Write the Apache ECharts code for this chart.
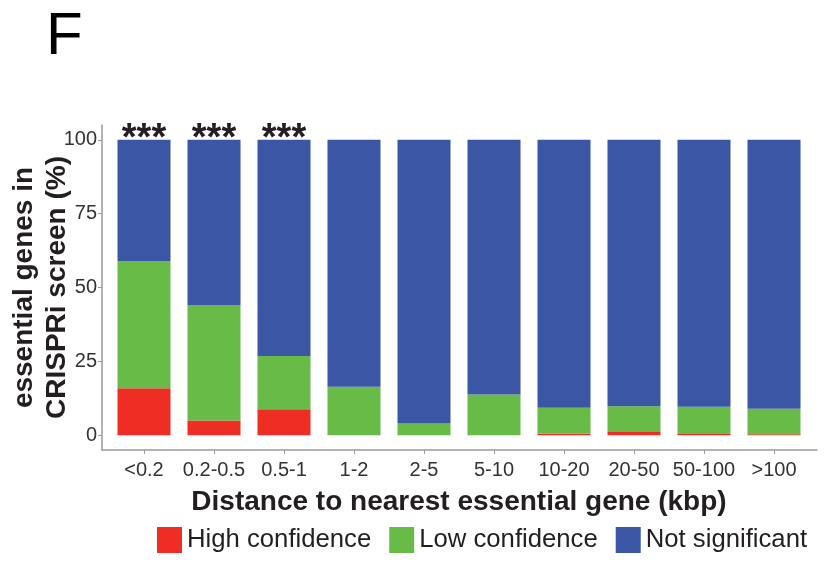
<!DOCTYPE html>
<html>
<head>
<meta charset="utf-8">
<script src="https://cdn.jsdelivr.net/npm/echarts@6/dist/echarts.min.js"></script>
<style>html,body{margin:0;padding:0;background:#fff}#c{width:827px;height:563px}</style>
</head>
<body>
<div id="c"></div>
<script>
const categories = ['<0.2','0.2-0.5','0.5-1','1-2','2-5','5-10','10-20','20-50','50-100','>100'];
const highConf = [15.9, 5.0, 8.8, 0, 0, 0, 0.5, 1.1, 0.4, 0.3];
const lowConf  = [43.1, 39.1, 18.0, 16.4, 4.0, 13.8, 8.8, 8.7, 9.2, 8.7];
const notSig   = [41.0, 55.9, 73.2, 83.6, 96.0, 86.2, 90.7, 90.2, 90.4, 91.0];
const significance = ['***','***','***','','','','','','',''];
const yTicks = [0, 25, 50, 75, 100];

const font = '"Liberation Sans", Arial, sans-serif';
const chart = echarts.init(document.getElementById('c'), null, {renderer: 'canvas'});
chart.setOption({
  backgroundColor: '#ffffff',
  animation: false,
  textStyle: {fontFamily: font},
  title: {
    text: 'F', left: 46, top: 7, padding: 0,
    textStyle: {fontFamily: font, fontSize: 60, fontWeight: 'normal', color: '#000'}
  },
  legend: {
    left: 157, top: 527, padding: 0,
    itemWidth: 25, itemHeight: 26, itemGap: 18,
    icon: 'rect',
    textStyle: {fontFamily: font, fontSize: 25.7, color: '#231f20'},
    data: ['High confidence', 'Low confidence', 'Not significant']
  },
  grid: [
    {left: 109, right: 18, top: 125, bottom: 113, outerBoundsMode: 'none', containLabel: false},
    {left: 102, right: 10, top: 125, bottom: 113, outerBoundsMode: 'none', containLabel: false}
  ],
  xAxis: [
    {
      type: 'category', gridIndex: 0, data: categories,
      axisLine: {show: false, onZero: false},
      axisTick: {show: true, alignWithLabel: true, length: 4, lineStyle: {color: '#9a9a9a', width: 1}},
      axisLabel: {fontFamily: font, fontSize: 20, color: '#333', margin: 10, interval: 0},
      name: 'Distance to nearest essential gene (kbp)',
      nameLocation: 'middle', nameGap: 38, nameMoveOverlap: false,
      nameTextStyle: {fontFamily: font, fontSize: 28, fontWeight: 'bold', color: '#231f20'}
    },
    {
      type: 'value', gridIndex: 1, min: 0, max: 1,
      axisLine: {show: true, onZero: false, lineStyle: {color: '#9a9a9a', width: 1.5}},
      axisTick: {show: false}, axisLabel: {show: false}, splitLine: {show: false}
    }
  ],
  yAxis: [
    {type: 'value', gridIndex: 0, min: -5, max: 105, show: false},
    {
      type: 'value', gridIndex: 1, min: -5, max: 105,
      axisLine: {show: true, onZero: false, lineStyle: {color: '#9a9a9a', width: 1.5}},
      axisTick: {show: true, customValues: yTicks, length: 4, lineStyle: {color: '#9a9a9a', width: 1}},
      axisLabel: {customValues: yTicks, fontFamily: font, fontSize: 20, color: '#333', margin: 5},
      splitLine: {show: false},
      name: 'essential genes in\nCRISPRi screen (%)',
      nameLocation: 'middle', nameGap: 28, nameMoveOverlap: false,
      nameTextStyle: {fontFamily: font, fontSize: 28, fontWeight: 'bold', color: '#231f20', lineHeight: 33}
    }
  ],
  series: [
    {name: 'High confidence', type: 'bar', stack: 's', xAxisIndex: 0, yAxisIndex: 0,
     barWidth: 53, itemStyle: {color: '#EE2E24'}, data: highConf},
    {name: 'Low confidence', type: 'bar', stack: 's', xAxisIndex: 0, yAxisIndex: 0,
     barWidth: 53, itemStyle: {color: '#67BB46'}, data: lowConf},
    {name: 'Not significant', type: 'bar', stack: 's', xAxisIndex: 0, yAxisIndex: 0,
     barWidth: 53, itemStyle: {color: '#3A56A5'}, data: notSig,
     label: {show: true, position: 'top', distance: 0, offset: [0, 19],
       formatter: p => significance[p.dataIndex],
       fontFamily: font, fontSize: 38, fontWeight: 'bold', color: '#231f20'}}
  ]
});
</script>
</body>
</html>
